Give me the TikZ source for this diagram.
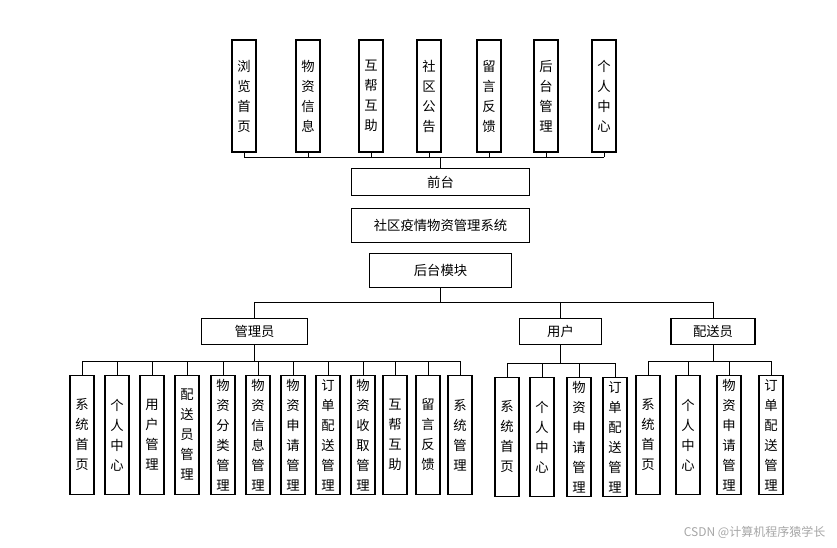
\documentclass[tikz,border=0pt]{standalone}
\usepackage{fontspec}
\newfontfamily\cjk{Noto Sans CJK SC}
\usetikzlibrary{calc}
\tikzset{
  box/.style={draw, thick, font=\cjk\fontsize{10}{15}\selectfont, inner sep=0pt, align=center},
  vbox/.style={box, minimum width=18pt, minimum height=#1},
  hbox/.style={box, minimum height=20pt},
  link/.style={thin}
}
\begin{document}
\begin{tikzpicture}[x=0.75pt, y=-0.75pt]
\useasboundingbox (0,0) rectangle (837,548);
%% top row
\foreach \x/\t [count=\i] in {244/浏\\览\\首\\页, 308/物\\资\\信\\息, 371/互\\帮\\互\\助, 429/社\\区\\公\\告, 489/留\\言\\反\\馈, 546/后\\台\\管\\理, 604/个\\人\\中\\心}
  \node[vbox=84pt] (t\i) at (\x,96) {\t};
\node[hbox, minimum width=133pt] (front) at (440.5,182) {前台};
\node[hbox, minimum width=133pt, minimum height=26pt] (sys) at (440.5,225.5) {社区疫情物资管理系统};
\node[hbox, minimum width=107pt, minimum height=26pt] (back) at (440.5,270.5) {后台模块};
\coordinate (busT) at (0,157);
\draw[link] (t1.south |- busT) -- (t7.south |- busT);
\foreach \i in {1,...,7} \draw[link] (t\i.south) -- (t\i.south |- busT);
\draw[link] (front.north |- busT) -- (front.north);
%% roles
\node[hbox, minimum width=79pt] (admin) at (254.5,331.5) {管理员};
\node[hbox, minimum width=62pt] (user) at (560.5,331.5) {用户};
\node[hbox, minimum width=63pt] (deliv) at (713,331.5) {配送员};
\coordinate (busR) at (0,302);
\draw[link] (back.south) -- (back.south |- busR);
\draw[link] (admin.north |- busR) -- (deliv.north |- busR);
\foreach \r in {admin, user, deliv} \draw[link] (\r.north |- busR) -- (\r.north);
%% admin leaves
\foreach \x/\t [count=\i] in {82/系\\统\\首\\页, 117/个\\人\\中\\心, 152/用\\户\\管\\理, 187/配\\送\\员\\管\\理, 223/物\\资\\分\\类\\管\\理, 258/物\\资\\信\\息\\管\\理, 293/物\\资\\申\\请\\管\\理, 328/订\\单\\配\\送\\管\\理, 363/物\\资\\收\\取\\管\\理, 395/互\\帮\\互\\助, 428/留\\言\\反\\馈, 460/系\\统\\管\\理}
  \node[vbox=89pt, anchor=north] (a\i) at (\x,375) {\t};
\coordinate (busA) at (0,361);
\draw[link] (admin.south) -- (admin.south |- busA);
\draw[link] (a1.north |- busA) -- (a12.north |- busA);
\foreach \i in {1,...,12} \draw[link] (a\i.north |- busA) -- (a\i.north);
%% user leaves
\foreach \x/\t [count=\i] in {507/系\\统\\首\\页, 542/个\\人\\中\\心, 579/物\\资\\申\\请\\管\\理, 615/订\\单\\配\\送\\管\\理}
  \node[vbox=89pt, anchor=north] (u\i) at (\x,377) {\t};
\coordinate (busU) at (0,363);
\draw[link] (user.south) -- (user.south |- busU);
\draw[link] (u1.north |- busU) -- (u4.north |- busU);
\foreach \i in {1,...,4} \draw[link] (u\i.north |- busU) -- (u\i.north);
%% delivery leaves
\foreach \x/\t [count=\i] in {648/系\\统\\首\\页, 688/个\\人\\中\\心, 729/物\\资\\申\\请\\管\\理, 771/订\\单\\配\\送\\管\\理}
  \node[vbox=89pt, anchor=north] (d\i) at (\x,375) {\t};
\coordinate (busD) at (0,361);
\draw[link] (deliv.south) -- (deliv.south |- busD);
\draw[link] (d1.north |- busD) -- (d4.north |- busD);
\foreach \i in {1,...,4} \draw[link] (d\i.north |- busD) -- (d\i.north);
\node[font=\cjk\fontsize{9}{9}\selectfont, text=gray!70, anchor=east] (mark) at (830,532) {CSDN @计算机程序猿学长};
\end{tikzpicture}
\end{document}
